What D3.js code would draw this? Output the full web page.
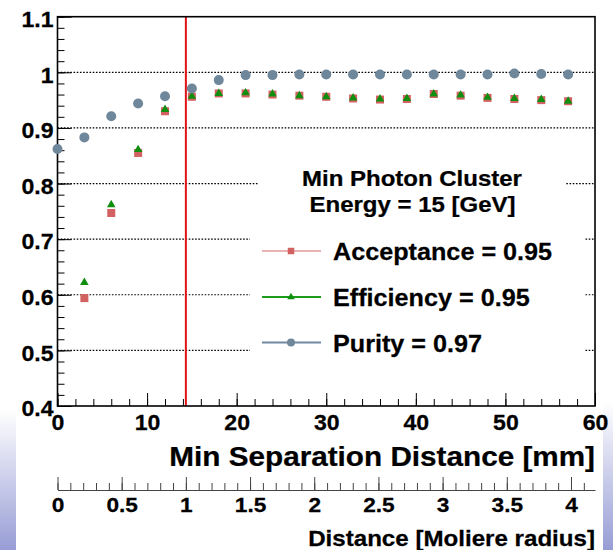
<!DOCTYPE html>
<html>
<head>
<meta charset="utf-8">
<script src="https://cdn.jsdelivr.net/npm/d3@7"></script>
<style>
  html, body { margin: 0; padding: 0; background: #fff; }
  svg { display: block; font-family: "Liberation Sans", Arial, Helvetica, sans-serif; font-weight: bold; }
</style>
</head>
<body>
<svg id="chart" width="613" height="550"></svg>
<script>
// Minimum separation distance between photon clusters [mm]
const separation = [0, 3, 6, 9, 12, 15, 18, 21, 24, 27, 30, 33, 36, 39, 42, 45, 48, 51, 54, 57];
// Acceptance and efficiency start at 3 mm
const separationAE = [3, 6, 9, 12, 15, 18, 21, 24, 27, 30, 33, 36, 39, 42, 45, 48, 51, 54, 57];
const purity = [0.862, 0.883, 0.921, 0.944, 0.957, 0.971, 0.986, 0.995, 0.995, 0.996, 0.996, 0.996, 0.996,
                0.996, 0.996, 0.996, 0.996, 0.998, 0.997, 0.996];
const acceptance = [0.594, 0.747, 0.855, 0.930, 0.956, 0.962, 0.962, 0.960, 0.958, 0.956, 0.953, 0.951,
                    0.952, 0.961, 0.958, 0.954, 0.952, 0.950, 0.948];
const efficiency = [0.622, 0.762, 0.861, 0.933, 0.957, 0.962, 0.963, 0.961, 0.958, 0.956, 0.954, 0.952,
                    0.953, 0.961, 0.959, 0.955, 0.953, 0.951, 0.948];

const moliereRadius = 14.33; // mm
const yTicks = [0.4, 0.5, 0.6, 0.7, 0.8, 0.9, 1.0, 1.1];
const yTickLabels = ["0.4", "0.5", "0.6", "0.7", "0.8", "0.9", "1", "1.1"];
const gridValues = [0.5, 0.6, 0.7, 0.8, 0.9, 1.0];
const xTicks = [0, 10, 20, 30, 40, 50, 60];
const rmTicks = [0, 0.5, 1, 1.5, 2, 2.5, 3, 3.5, 4];
const rmTickLabels = ["0", "0.5", "1", "1.5", "2", "2.5", "3", "3.5", "4"];
const legendHeader = ["Min Photon Cluster", "Energy = 15 [GeV]"];
const legendLabels = ["Acceptance = 0.95", "Efficiency = 0.95", "Purity = 0.97"];
const xTitle = "Min Separation Distance [mm]";
const rmTitle = "Distance [Moliere radius]";

const colAcc = "#d26262", colAccLine = "#e29a9a";
const colEff = "#108e10", colEffLine = "#1c9c1c";
const colPur = "#6f879b", colPurLine = "#7189a0";

const svg = d3.select("#chart");
const W = 613, H = 550;
const plotL = 57.5, plotR = 595, plotT = 16.7, plotB = 406;

const x = d3.scaleLinear().domain([0, 60]).range([plotL, plotR]);
const y = d3.scaleLinear().domain([0.4, 1.1]).range([plotB, plotT]);
const rm = d3.scaleLinear().domain([0, 60 / moliereRadius]).range([plotL, plotR]);

svg.append("rect").attr("width", W).attr("height", H).attr("fill", "#fff");

// soft blue edge bands at the bottom corners
const defs = svg.append("defs");
const grad = defs.append("linearGradient").attr("id", "edge").attr("x1", 0).attr("y1", 0).attr("x2", 0).attr("y2", 1);
grad.append("stop").attr("offset", "0%").attr("stop-color", "#ffffff");
grad.append("stop").attr("offset", "100%").attr("stop-color", "#979dd5");
svg.append("rect").attr("x", 0).attr("y", 410).attr("width", 16).attr("height", H - 410).attr("fill", "url(#edge)");
svg.append("rect").attr("x", 603).attr("y", 402).attr("width", 10).attr("height", H - 402).attr("fill", "url(#edge)");

// bold text, slightly widened
function label(str, px, py, size, anchor, sx) {
  return svg.append("text")
    .attr("transform", `translate(${px},${py}) scale(${sx},1)`)
    .attr("text-anchor", anchor)
    .style("font-size", size + "px")
    .attr("fill", "#000")
    .attr("stroke", "#000").attr("stroke-width", 0.25)
    .text(str);
}

// dotted grid
svg.append("g").selectAll("line").data(gridValues).join("line")
  .attr("x1", plotL).attr("x2", plotR)
  .attr("y1", d => y(d)).attr("y2", d => y(d))
  .attr("stroke", "#000").attr("stroke-width", 1.2).attr("stroke-dasharray", "1.6,1.6");

// legend backgrounds
svg.append("rect").attr("x", 258).attr("y", 160).attr("width", 308).attr("height", 62).attr("fill", "#fff");
svg.append("rect").attr("x", 250).attr("y", 222).attr("width", 335).attr("height", 150).attr("fill", "#fff");

// vertical marker at one Moliere radius
svg.append("line")
  .attr("x1", x(moliereRadius)).attr("x2", x(moliereRadius))
  .attr("y1", plotT).attr("y2", plotB)
  .attr("stroke", "#e01414").attr("stroke-width", 2);

// axes
const xMajor = d3.axisBottom(x).tickValues(xTicks).tickSize(-13).tickSizeOuter(0).tickFormat(d3.format("d"));
const xMinor = d3.axisBottom(x).tickValues(d3.range(0, 61, 2)).tickSize(-7).tickSizeOuter(0).tickFormat("");
const yMajor = d3.axisLeft(y).tickValues(yTicks).tickSize(-14).tickSizeOuter(0).tickPadding(4)
  .tickFormat((d, i) => yTickLabels[i]);
const yMinor = d3.axisLeft(y).tickValues(d3.range(0.4, 1.1001, 0.02)).tickSize(-7).tickSizeOuter(0).tickFormat("");

function styleAxis(g, size) {
  g.select(".domain").remove();
  g.selectAll("line").attr("stroke", "#000").attr("stroke-width", 1);
  g.selectAll("text").attr("fill", "#000").attr("stroke", "#000").attr("stroke-width", 0.25)
    .style("font-size", size + "px").style("font-family", null).style("font-weight", "bold");
}

const tickSX = 1.05;
const gx = svg.append("g").attr("transform", `translate(0,${plotB})`).call(xMajor).call(styleAxis, 22);
gx.selectAll("text").attr("dy", null).attr("y", 24).attr("transform", `scale(${tickSX},1)`);
svg.append("g").attr("transform", `translate(0,${plotB})`).call(xMinor).call(styleAxis, 22);

const gy = svg.append("g").attr("transform", `translate(${plotL},0)`).call(yMajor).call(styleAxis, 22);
gy.selectAll("text").attr("dy", "0.44em").attr("x", -4 / tickSX).attr("transform", `scale(${tickSX},1)`);
svg.append("g").attr("transform", `translate(${plotL},0)`).call(yMinor).call(styleAxis, 22);

// frame
svg.append("rect").attr("x", plotL).attr("y", plotT).attr("width", plotR - plotL).attr("height", plotB - plotT)
  .attr("fill", "none").attr("stroke", "#000").attr("stroke-width", 1.6);

// data markers
const sqSym = d3.symbol().type(d3.symbolSquare).size(64);
const triSym = d3.symbol().type(d3.symbolTriangle).size(32);

svg.append("g").selectAll("path").data(acceptance).join("path")
  .attr("transform", (d, i) => `translate(${x(separationAE[i])},${y(d)})`)
  .attr("d", sqSym).attr("fill", colAcc);
svg.append("g").selectAll("path").data(efficiency).join("path")
  .attr("transform", (d, i) => `translate(${x(separationAE[i])},${y(d)})`)
  .attr("d", triSym).attr("fill", colEff);
svg.append("g").selectAll("circle").data(purity).join("circle")
  .attr("cx", (d, i) => x(separation[i])).attr("cy", d => y(d)).attr("r", 5).attr("fill", colPur);

// x title
label(xTitle, plotR, 466, 27, "end", 1.1);

// second axis in Moliere radius units
const rmSX = 1.08;
const rmMajor = d3.axisBottom(rm).tickValues(rmTicks).tickSize(-13).tickSizeOuter(0).tickFormat((d, i) => rmTickLabels[i]);
const rmMinor = d3.axisBottom(rm).tickValues(d3.range(0, 4.19, 0.1)).tickSize(-7).tickSizeOuter(0).tickFormat("");
const grm = svg.append("g").attr("transform", "translate(0,490)").call(rmMajor);
grm.select(".domain").attr("stroke", "#444").attr("stroke-width", 1.2);
grm.selectAll("line").attr("stroke", "#444");
grm.selectAll("text").attr("fill", "#000").attr("stroke", "#000").attr("stroke-width", 0.25)
  .style("font-size", "21px").style("font-family", null).style("font-weight", "bold")
  .attr("dy", null).attr("y", 22.5).attr("transform", `scale(${rmSX},1)`);
const grm2 = svg.append("g").attr("transform", "translate(0,490)").call(rmMinor);
grm2.select(".domain").remove();
grm2.selectAll("line").attr("stroke", "#444");

label(rmTitle, plotR, 546, 22, "end", 1.097);

// legend
label(legendHeader[0], 412, 185.5, 21.5, "middle", 1.116);
label(legendHeader[1], 412.5, 212, 21.5, "middle", 1.116);

const legendY = [251, 297, 342.5];
const legendStyles = [
  { line: colAccLine, w: 1.5, col: colAcc, sym: d3.symbol().type(d3.symbolSquare).size(42) },
  { line: colEffLine, w: 2, col: colEff, sym: d3.symbol().type(d3.symbolTriangle).size(24) },
  { line: colPurLine, w: 2, col: colPur, sym: null }
];
legendLabels.forEach((t, i) => {
  const st = legendStyles[i];
  svg.append("line").attr("x1", 262).attr("x2", 321).attr("y1", legendY[i]).attr("y2", legendY[i])
    .attr("stroke", st.line).attr("stroke-width", st.w);
  if (st.sym) {
    svg.append("path").attr("transform", `translate(291,${legendY[i]})`).attr("d", st.sym).attr("fill", st.col);
  } else {
    svg.append("circle").attr("cx", 291).attr("cy", legendY[i]).attr("r", 4).attr("fill", st.col);
  }
  label(t, 333, legendY[i] + 9, 24, "start", 1.05);
});
</script>
</body>
</html>
